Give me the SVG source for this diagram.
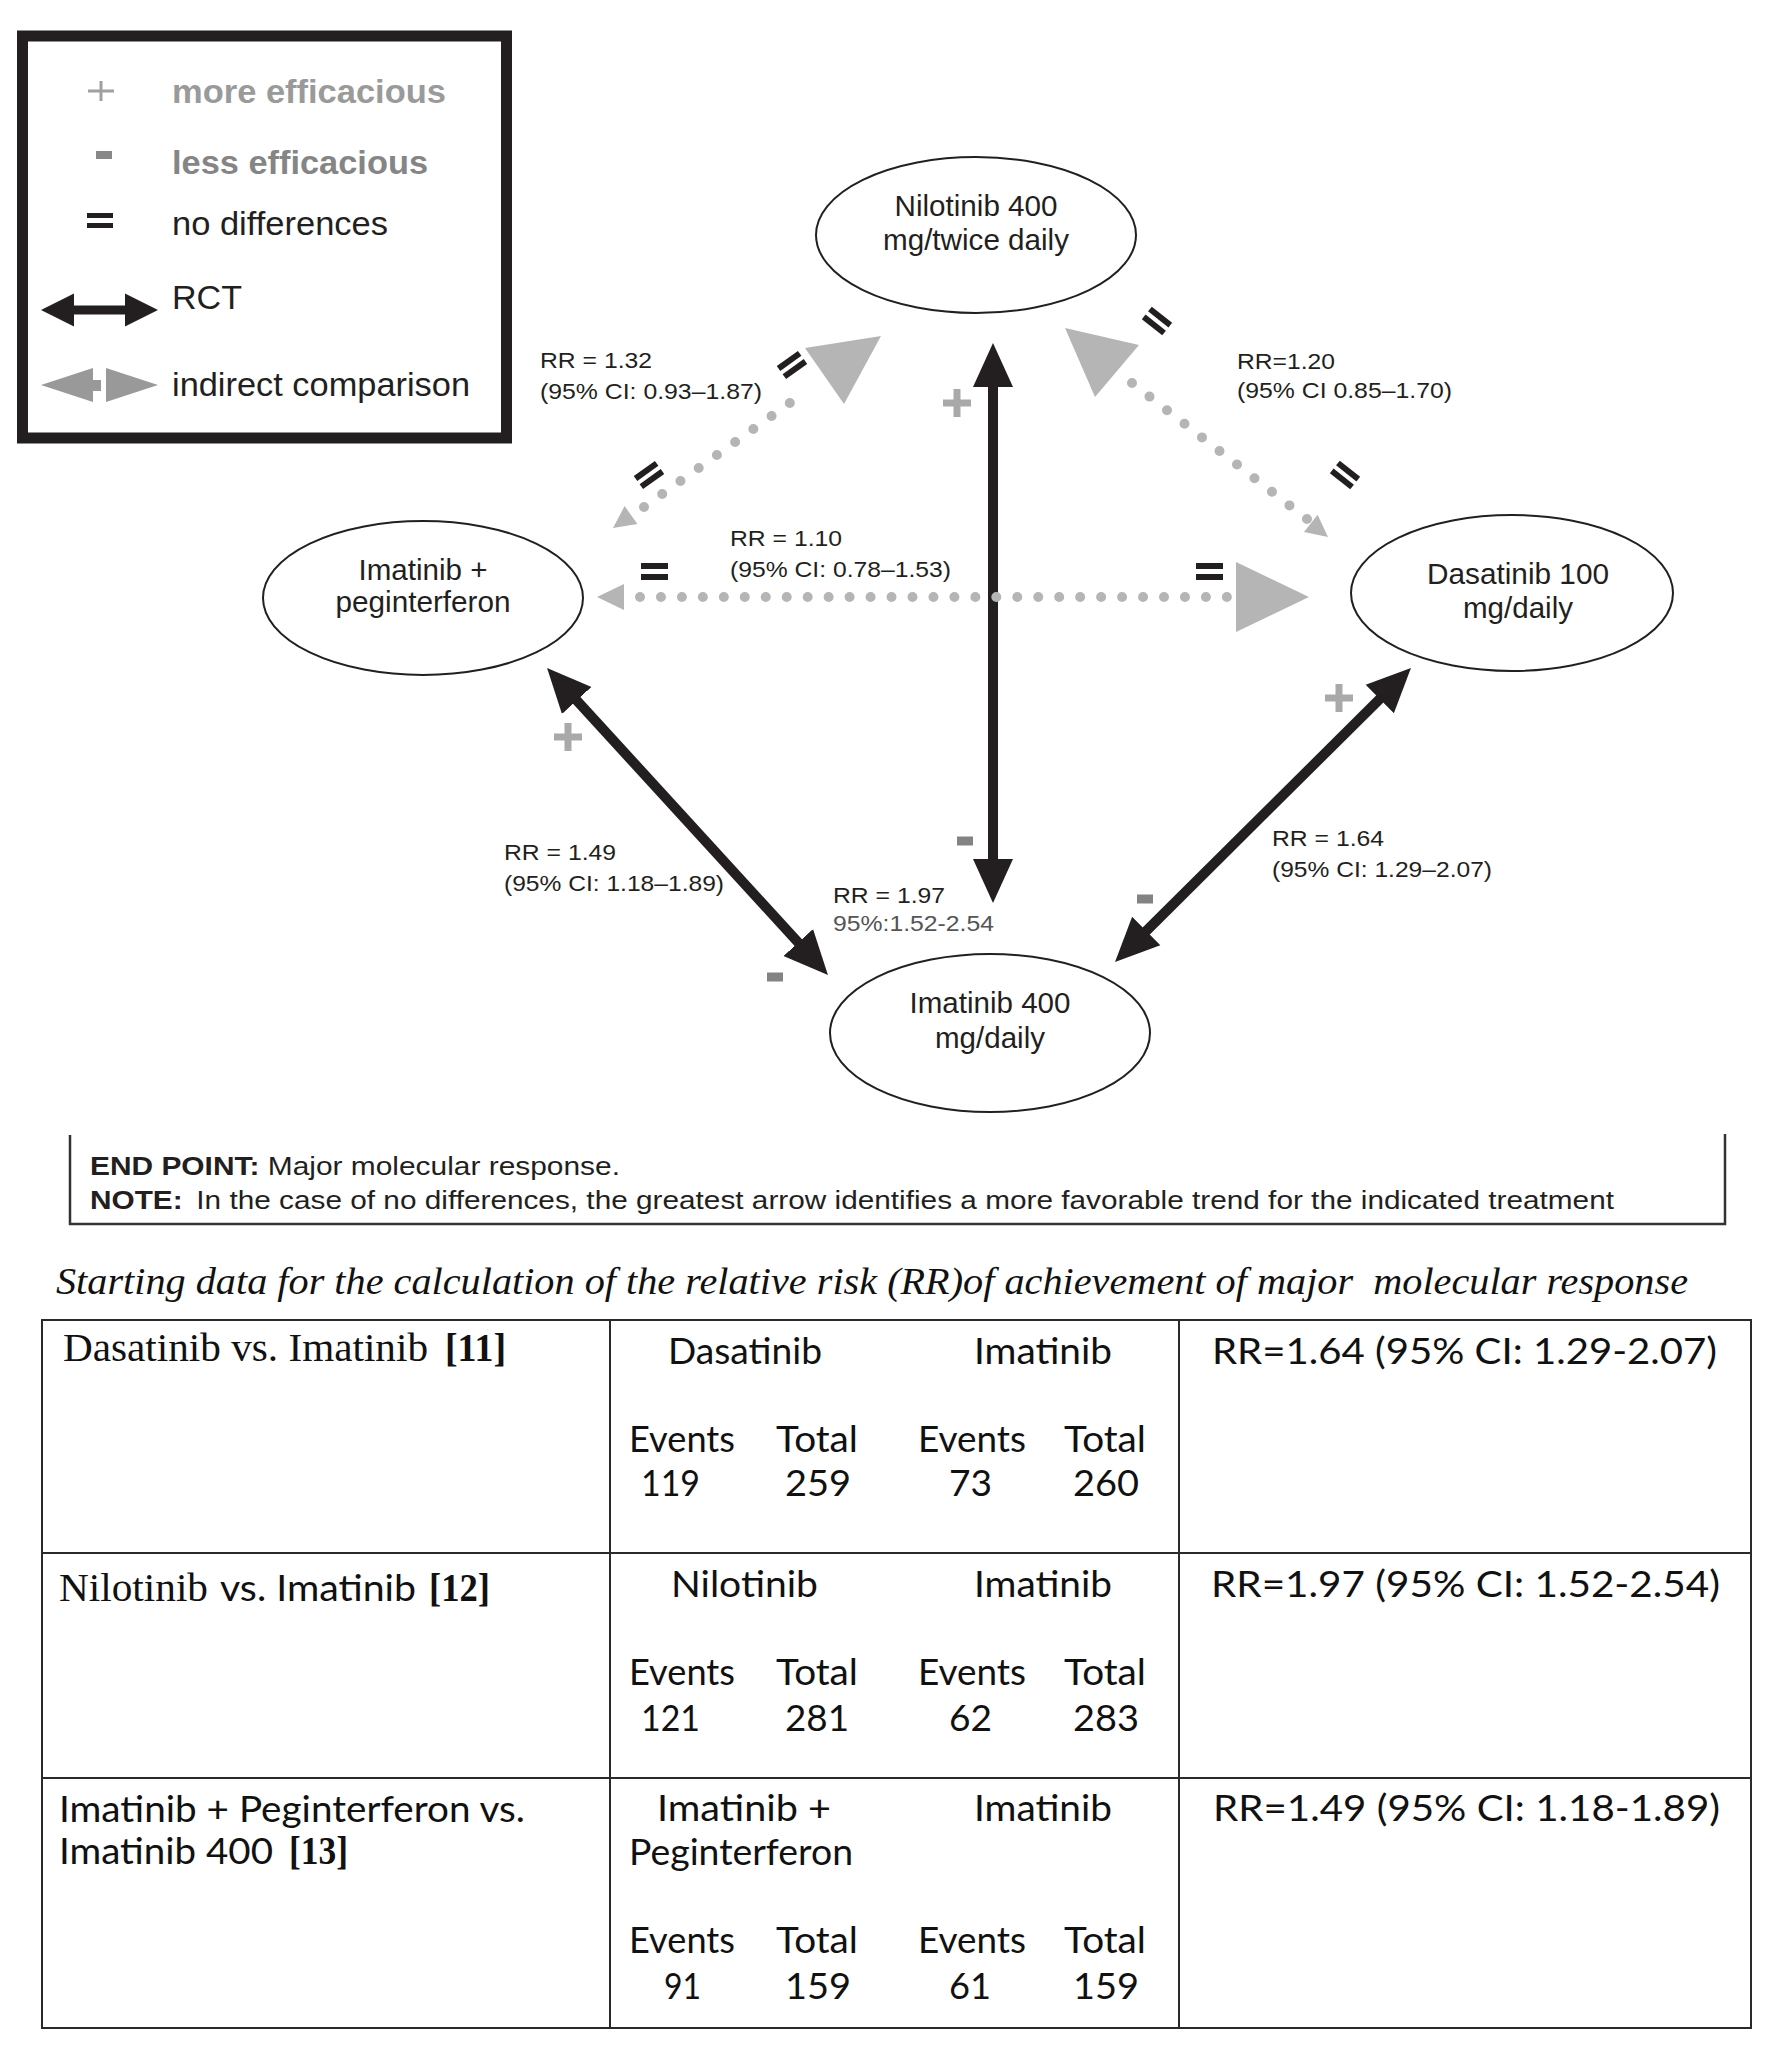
<svg xmlns="http://www.w3.org/2000/svg" width="1772" height="2049" viewBox="0 0 1772 2049">
<style>
.sans{font-family:"Liberation Sans",Arial,sans-serif;fill:#231f20}
.lbl{font-family:"Liberation Sans",Arial,sans-serif;font-size:22px;fill:#231f20}
.nd{font-family:"Liberation Sans",Arial,sans-serif;font-size:29px;fill:#231f20;text-anchor:middle}
.ell{fill:#fff;stroke:#231f20;stroke-width:2}
.rct{stroke:#231f20;stroke-width:10;fill:none}
.dot{stroke:#b5b5b5;stroke-width:10;stroke-linecap:round;fill:none}
.gh{fill:#b5b5b5}
.plus{stroke:#a9a9a9;stroke-width:7;fill:none}
.minus{fill:#838383}
.eq{fill:#231f20}
.tbl{font-family:Lato,"Liberation Sans",sans-serif;font-size:37px;fill:#111}
.ser{font-family:"Liberation Serif","Times New Roman",serif;font-size:39px;fill:#111}
.serb{font-family:"Liberation Serif","Times New Roman",serif;font-size:40px;font-weight:bold;fill:#111}
.grid{stroke:#2a2a2a;stroke-width:2;fill:none}
</style>
<defs>
<marker id="ah" markerUnits="userSpaceOnUse" viewBox="0 -22 44 44" markerWidth="44" markerHeight="44" refX="14" refY="0" orient="auto-start-reverse">
<path d="M0,-20 L44,0 L0,20 Z" fill="#231f20"/>
</marker>
<marker id="ahs" markerUnits="userSpaceOnUse" viewBox="0 -17 33 34" markerWidth="33" markerHeight="34" refX="13" refY="0" orient="auto-start-reverse">
<path d="M0,-16.5 L33,0 L0,16.5 Z" fill="#231f20"/>
</marker>
<g id="teq"><rect x="-13" y="-8" width="26" height="6"/><rect x="-13" y="2" width="26" height="6"/></g>
</defs>
<rect width="1772" height="2049" fill="#fff"/>

<g id="legend">
<rect x="22.5" y="36" width="484" height="402" fill="#fff" stroke="#231f20" stroke-width="11"/>
<path d="M88,91 H114 M101,81 V101" stroke="#a0a0a0" stroke-width="3" fill="none"/>
<text x="172" y="103" class="sans" font-size="34" font-weight="bold" style="fill:#9a9a9a" textLength="274" lengthAdjust="spacingAndGlyphs">more efficacious</text>
<rect x="96" y="151" width="16" height="8" fill="#888"/>
<text x="172" y="174" class="sans" font-size="34" font-weight="bold" style="fill:#858585" textLength="256" lengthAdjust="spacingAndGlyphs">less efficacious</text>
<rect x="87" y="213" width="26" height="5" fill="#231f20"/>
<rect x="87" y="223" width="26" height="5" fill="#231f20"/>
<text x="172" y="235" class="sans" font-size="34" textLength="216" lengthAdjust="spacingAndGlyphs">no differences</text>
<line x1="61" y1="310" x2="138" y2="310" stroke="#231f20" stroke-width="9" marker-start="url(#ahs)" marker-end="url(#ahs)"/>
<text x="172" y="309" class="sans" font-size="34" textLength="70" lengthAdjust="spacingAndGlyphs">RCT</text>
<polygon points="41,385 93,368 93,402" fill="#999"/>
<rect x="93" y="380" width="8" height="11" fill="#999"/>
<polygon points="106,368 158,385 106,402" fill="#999"/>
<text x="172" y="396" class="sans" font-size="34" textLength="298" lengthAdjust="spacingAndGlyphs">indirect comparison</text>
</g>

<g id="connectors">
<line class="rct" x1="993" y1="373" x2="993" y2="873" marker-start="url(#ah)" marker-end="url(#ah)"/>
<line class="rct" x1="567.3" y1="690.1" x2="807.7" y2="952.9" marker-start="url(#ah)" marker-end="url(#ah)"/>
<line class="rct" x1="1389.7" y1="689.1" x2="1136.3" y2="940.9" marker-start="url(#ah)" marker-end="url(#ah)"/>
<line class="dot" x1="640" y1="597" x2="1227" y2="597" stroke-dasharray="0 20.96"/>
<polygon class="gh" points="597,597 624,584 624,610"/>
<polygon class="gh" points="1236,562 1309,597 1236,632"/>
<line class="dot" x1="644" y1="507" x2="808" y2="390" stroke-dasharray="0 22.39"/>
<polygon class="gh" points="613,528 637.4,523.9 624.6,506.1"/>
<polygon class="gh" points="805,348 881,336 844,404"/>
<line class="dot" x1="1132" y1="383" x2="1307" y2="519" stroke-dasharray="0 22.16"/>
<polygon class="gh" points="1328,537 1304,531.9 1317.6,514.7"/>
<polygon class="gh" points="1065,328 1139,345 1095,397"/>
<g class="eq">
<rect x="641" y="563" width="27" height="6"/><rect x="641" y="574" width="27" height="6"/>
<rect x="1196" y="563" width="27" height="6"/><rect x="1196" y="574" width="27" height="6"/>
<use href="#teq" transform="translate(792,365) rotate(-35.6)"/>
<use href="#teq" transform="translate(649,475) rotate(-35.6)"/>
<use href="#teq" transform="translate(1157,321) rotate(38.5)"/>
<use href="#teq" transform="translate(1345,475) rotate(38.5)"/>
</g>
<path class="plus" d="M943,403 H971 M957,389 V417"/>
<path class="plus" d="M554,737 H582 M568,723 V751"/>
<path class="plus" d="M1325,698 H1353 M1339,684 V712"/>
<rect class="minus" x="957" y="836.5" width="16" height="9"/>
<rect class="minus" x="767" y="972.5" width="16" height="9"/>
<rect class="minus" x="1137" y="894.5" width="16" height="9"/>
<text class="lbl" x="540" y="368" textLength="112" lengthAdjust="spacingAndGlyphs">RR = 1.32</text>
<text class="lbl" x="540" y="399" textLength="222" lengthAdjust="spacingAndGlyphs">(95% CI: 0.93–1.87)</text>
<text class="lbl" x="1237" y="369" textLength="98" lengthAdjust="spacingAndGlyphs">RR=1.20</text>
<text class="lbl" x="1237" y="398" textLength="215" lengthAdjust="spacingAndGlyphs">(95% CI 0.85–1.70)</text>
<text class="lbl" x="730" y="546" textLength="112" lengthAdjust="spacingAndGlyphs">RR = 1.10</text>
<text class="lbl" x="730" y="577" textLength="221" lengthAdjust="spacingAndGlyphs">(95% CI: 0.78–1.53)</text>
<text class="lbl" x="504" y="860" textLength="112" lengthAdjust="spacingAndGlyphs">RR = 1.49</text>
<text class="lbl" x="504" y="891" textLength="220" lengthAdjust="spacingAndGlyphs">(95% CI: 1.18–1.89)</text>
<text class="lbl" x="833" y="903" textLength="112" lengthAdjust="spacingAndGlyphs">RR = 1.97</text>
<text class="lbl" x="833" y="931" style="fill:#555" textLength="161" lengthAdjust="spacingAndGlyphs">95%:1.52-2.54</text>
<text class="lbl" x="1272" y="846" textLength="112" lengthAdjust="spacingAndGlyphs">RR = 1.64</text>
<text class="lbl" x="1272" y="877" textLength="220" lengthAdjust="spacingAndGlyphs">(95% CI: 1.29–2.07)</text>
</g>

<g id="node-nilotinib">
<ellipse class="ell" cx="976" cy="235" rx="160" ry="78"/>
<text class="nd" x="976" y="216" textLength="163" lengthAdjust="spacingAndGlyphs">Nilotinib 400</text>
<text class="nd" x="976" y="250" textLength="186" lengthAdjust="spacingAndGlyphs">mg/twice daily</text>
</g>
<g id="node-imatinib-peg">
<ellipse class="ell" cx="423" cy="598" rx="160" ry="77"/>
<text class="nd" x="423" y="580" textLength="129" lengthAdjust="spacingAndGlyphs">Imatinib +</text>
<text class="nd" x="423" y="612" textLength="175" lengthAdjust="spacingAndGlyphs">peginterferon</text>
</g>
<g id="node-dasatinib">
<ellipse class="ell" cx="1512" cy="593" rx="161" ry="78"/>
<text class="nd" x="1518" y="584" textLength="182" lengthAdjust="spacingAndGlyphs">Dasatinib 100</text>
<text class="nd" x="1518" y="618" textLength="110" lengthAdjust="spacingAndGlyphs">mg/daily</text>
</g>
<g id="node-imatinib400">
<ellipse class="ell" cx="990" cy="1033" rx="160" ry="79"/>
<text class="nd" x="990" y="1013" textLength="161" lengthAdjust="spacingAndGlyphs">Imatinib 400</text>
<text class="nd" x="990" y="1048" textLength="110" lengthAdjust="spacingAndGlyphs">mg/daily</text>
</g>

<g id="note">
<path d="M70,1135 V1224 H1725 V1134" stroke="#333" stroke-width="2.5" fill="none"/>
<text class="sans" x="90" y="1175" font-size="26" textLength="530" lengthAdjust="spacingAndGlyphs"><tspan font-weight="bold">END POINT:</tspan> Major molecular response.</text>
<text class="sans" x="90" y="1209" font-size="26" textLength="1524" lengthAdjust="spacingAndGlyphs"><tspan font-weight="bold">NOTE:</tspan><tspan dx="12">In the case of no differences, the greatest arrow identifies a more favorable trend for the indicated treatment</tspan></text>
</g>

<g id="table">
<text x="56" y="1294" xml:space="preserve" font-family="'Liberation Serif','Times New Roman',serif" font-style="italic" font-size="38" fill="#111" textLength="1632" lengthAdjust="spacingAndGlyphs">Starting data for the calculation of the relative risk (RR)of achievement of major  molecular response</text>
<rect class="grid" x="42" y="1320" width="1709" height="708"/>
<path class="grid" d="M610,1320 V2028 M1179,1320 V2028 M42,1553 H1751 M42,1778 H1751"/>

<text class="ser" x="63" y="1361" textLength="365" lengthAdjust="spacingAndGlyphs">Dasatinib vs. Imatinib</text>
<text class="serb" x="445" y="1361" textLength="61" lengthAdjust="spacingAndGlyphs">[11]</text>
<text class="tbl" x="668" y="1364" textLength="154" lengthAdjust="spacingAndGlyphs">Dasatinib</text>
<text class="tbl" x="974" y="1364" textLength="138" lengthAdjust="spacingAndGlyphs">Imatinib</text>
<text class="tbl" x="1212" y="1364" textLength="505" lengthAdjust="spacingAndGlyphs">RR=1.64 (95% CI: 1.29-2.07)</text>
<text class="tbl" x="629" y="1452" textLength="106" lengthAdjust="spacingAndGlyphs">Events</text>
<text class="tbl" x="776" y="1452" textLength="82" lengthAdjust="spacingAndGlyphs">Total</text>
<text class="tbl" x="918" y="1452" textLength="108" lengthAdjust="spacingAndGlyphs">Events</text>
<text class="tbl" x="1064" y="1452" textLength="82" lengthAdjust="spacingAndGlyphs">Total</text>
<text class="tbl" x="641" y="1496" textLength="59" lengthAdjust="spacingAndGlyphs">119</text>
<text class="tbl" x="785" y="1496" textLength="66" lengthAdjust="spacingAndGlyphs">259</text>
<text class="tbl" x="949" y="1496" textLength="43" lengthAdjust="spacingAndGlyphs">73</text>
<text class="tbl" x="1073" y="1496" textLength="66" lengthAdjust="spacingAndGlyphs">260</text>

<text class="ser" x="59" y="1601" textLength="149" lengthAdjust="spacingAndGlyphs">Nilotinib</text>
<text class="tbl" x="220" y="1601" font-size="38" textLength="196" lengthAdjust="spacingAndGlyphs">vs. Imatinib</text>
<text class="serb" x="429" y="1601" textLength="61" lengthAdjust="spacingAndGlyphs">[12]</text>
<text class="tbl" x="671" y="1597" textLength="147" lengthAdjust="spacingAndGlyphs">Nilotinib</text>
<text class="tbl" x="974" y="1597" textLength="138" lengthAdjust="spacingAndGlyphs">Imatinib</text>
<text class="tbl" x="1211" y="1597" textLength="509" lengthAdjust="spacingAndGlyphs">RR=1.97 (95% CI: 1.52-2.54)</text>
<text class="tbl" x="629" y="1685" textLength="106" lengthAdjust="spacingAndGlyphs">Events</text>
<text class="tbl" x="776" y="1685" textLength="82" lengthAdjust="spacingAndGlyphs">Total</text>
<text class="tbl" x="918" y="1685" textLength="108" lengthAdjust="spacingAndGlyphs">Events</text>
<text class="tbl" x="1064" y="1685" textLength="82" lengthAdjust="spacingAndGlyphs">Total</text>
<text class="tbl" x="641" y="1731" textLength="59" lengthAdjust="spacingAndGlyphs">121</text>
<text class="tbl" x="785" y="1731" textLength="64" lengthAdjust="spacingAndGlyphs">281</text>
<text class="tbl" x="949" y="1731" textLength="43" lengthAdjust="spacingAndGlyphs">62</text>
<text class="tbl" x="1073" y="1731" textLength="66" lengthAdjust="spacingAndGlyphs">283</text>

<text class="tbl" x="59" y="1822" font-size="38" textLength="466" lengthAdjust="spacingAndGlyphs">Imatinib + Peginterferon vs.</text>
<text class="tbl" x="59" y="1864" font-size="38" textLength="214" lengthAdjust="spacingAndGlyphs">Imatinib 400</text>
<text class="serb" x="289" y="1864" textLength="59" lengthAdjust="spacingAndGlyphs">[13]</text>
<text class="tbl" x="657" y="1821" textLength="174" lengthAdjust="spacingAndGlyphs">Imatinib +</text>
<text class="tbl" x="629" y="1865" textLength="224" lengthAdjust="spacingAndGlyphs">Peginterferon</text>
<text class="tbl" x="974" y="1821" textLength="138" lengthAdjust="spacingAndGlyphs">Imatinib</text>
<text class="tbl" x="1213" y="1821" textLength="507" lengthAdjust="spacingAndGlyphs">RR=1.49 (95% CI: 1.18-1.89)</text>
<text class="tbl" x="629" y="1953" textLength="106" lengthAdjust="spacingAndGlyphs">Events</text>
<text class="tbl" x="776" y="1953" textLength="82" lengthAdjust="spacingAndGlyphs">Total</text>
<text class="tbl" x="918" y="1953" textLength="108" lengthAdjust="spacingAndGlyphs">Events</text>
<text class="tbl" x="1064" y="1953" textLength="82" lengthAdjust="spacingAndGlyphs">Total</text>
<text class="tbl" x="664" y="1999" textLength="37" lengthAdjust="spacingAndGlyphs">91</text>
<text class="tbl" x="785" y="1999" textLength="66" lengthAdjust="spacingAndGlyphs">159</text>
<text class="tbl" x="949" y="1999" textLength="42" lengthAdjust="spacingAndGlyphs">61</text>
<text class="tbl" x="1073" y="1999" textLength="66" lengthAdjust="spacingAndGlyphs">159</text>
</g>
</svg>
